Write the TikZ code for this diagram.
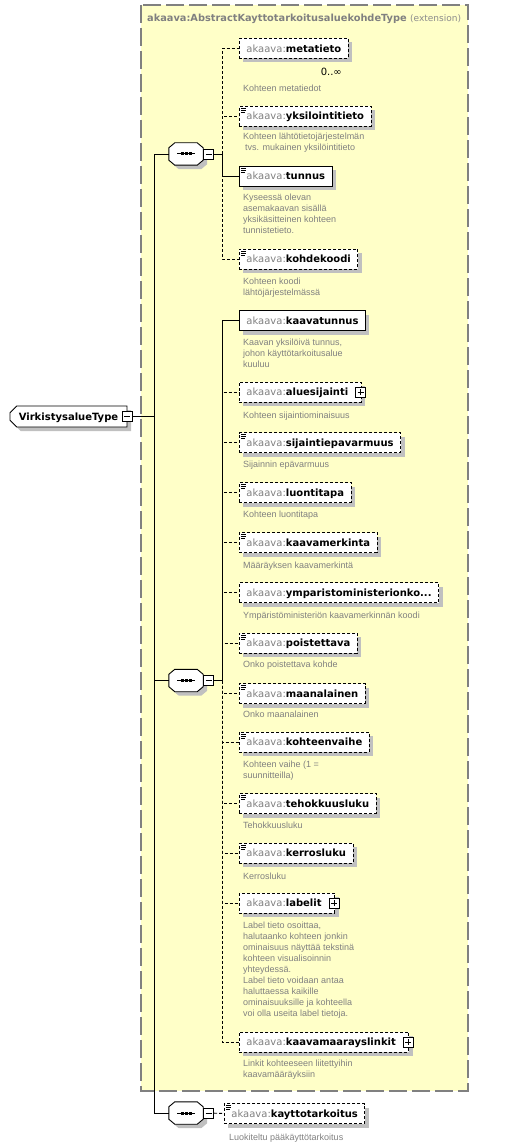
\documentclass[tikz,border=0pt]{standalone}
\usepackage{fontspec}
\setmainfont{DejaVu Sans}
\newfontfamily\descfont{Liberation Sans}
\usetikzlibrary{shapes.misc,shadows}

\definecolor{extfill}{RGB}{255,255,200}
\definecolor{extline}{RGB}{128,128,128}
\definecolor{titlegray}{RGB}{128,128,128}
\definecolor{extgray}{RGB}{140,140,140}
\definecolor{prefixgray}{RGB}{128,128,128}
\definecolor{descgray}{RGB}{128,128,128}
\definecolor{shadowgray}{RGB}{192,192,192}

\newcommand{\akel}[1]{{\color{prefixgray}akaava:}\textbf{#1}}

\tikzset{
  grayshadow/.style={drop shadow={opacity=1, fill=shadowgray, shadow xshift=4pt, shadow yshift=-4pt}},
  elem/.style={draw, fill=white, line width=0.9pt, minimum height=20pt, inner xsep=7pt, inner ysep=0pt,
    text height=7.5pt, text depth=0pt, anchor=west, font=\fontsize{10}{12}\selectfont, grayshadow},
  optel/.style={elem, dash pattern=on 3pt off 2pt},
  simple/.style={path picture={
      \draw[solid, line width=0.8pt] ([xshift=1.5pt,yshift=-2pt]path picture bounding box.north west) -- ++(5pt,0pt);
      \draw[solid, line width=0.8pt] ([xshift=1.5pt,yshift=-4pt]path picture bounding box.north west) -- ++(5pt,0pt);
      \draw[solid, line width=0.8pt] ([xshift=1.5pt,yshift=-6pt]path picture bounding box.north west) -- ++(4pt,0pt);
    }},
  desc/.style={anchor=north west, inner sep=0pt, align=left, text=descgray,
    font=\descfont\fontsize{9}{11}\selectfont, execute at begin node=\strut},
  pm/.style={draw, solid, fill=white, line width=0.9pt, minimum size=10pt, inner sep=0pt},
  minus/.style={pm, path picture={
      \draw[line width=0.9pt] ([xshift=2pt]path picture bounding box.west) -- ([xshift=-2pt]path picture bounding box.east);}},
  plus/.style={pm, path picture={
      \draw[line width=0.9pt] ([xshift=2pt]path picture bounding box.west) -- ([xshift=-2pt]path picture bounding box.east);
      \draw[line width=0.9pt] ([yshift=2pt]path picture bounding box.south) -- ([yshift=-2pt]path picture bounding box.north);}},
  seq/.style={rectangle, minimum width=34pt, minimum height=22pt, inner sep=0pt},
  seqline/.style={draw, fill=white, line width=0.9pt, grayshadow},
  root/.style={chamfered rectangle, chamfered rectangle corners={north west,south west}, chamfered rectangle xsep=3pt,
    draw, fill=white, line width=0.9pt, minimum width=117pt, minimum height=21pt, inner xsep=4pt, inner ysep=0pt,
    text height=7.5pt, text depth=0pt, font=\bfseries\fontsize{10}{12}\selectfont, grayshadow},
  conn/.style={line width=0.9pt},
  optconn/.style={conn, dash pattern=on 3pt off 2pt},
  extbox/.style={draw=extline, fill=extfill, line width=1.2pt, dash pattern=on 18pt off 5pt},
  title/.style={anchor=west, inner sep=0pt, text=titlegray, text height=7.5pt, text depth=0pt,
    font=\bfseries\fontsize{9.8}{12}\selectfont}
}

\begin{document}
\begin{tikzpicture}[x=1pt, y=-1pt]
  \useasboundingbox (0,0) rectangle (510,1147);

  % base type frame
  \draw[extbox] (141,5) rectangle (468,1091);
  \node[title] (ttl) at (147,18) {akaava:AbstractKayttotarkoitusaluekohdeType {\mdseries\fontsize{9}{11}\selectfont\color{extgray}(extension)}};

  % root type and compositors
  \node[root] (root) at (68.5,416.5) {VirkistysalueType};
  \node[minus] (rootpm) at (root.east) {};
  \coordinate (trunk) at (154,416.5);

  \node[seq] (seq1) at (186,154) {};
  \coordinate (fork1) at (222,154);
  \node[seq] (seq2) at (186,680.5) {};
  \coordinate (fork2) at (222,680.5);
  \node[seq] (seq3) at (186,1113) {};

  \foreach \s in {seq1,seq2,seq3}{
    \path[seqline] ([xshift=6pt]\s.north west) -- ([xshift=-6pt]\s.north east) -- ([yshift=-5pt]\s.north east)
      -- ([yshift=5pt]\s.south east) -- ([xshift=-6pt]\s.south east) -- ([xshift=6pt]\s.south west)
      -- ([yshift=5pt]\s.south west) -- ([yshift=-5pt]\s.north west) -- cycle;
    \draw[line width=1pt] ([xshift=-9pt]\s.center) -- ([xshift=9pt]\s.center);
    \fill ([xshift=-5.5pt,yshift=-1.5pt]\s.center) rectangle ++(3pt,3pt);
    \fill ([xshift=-1.5pt,yshift=-1.5pt]\s.center) rectangle ++(3pt,3pt);
    \fill ([xshift=2.5pt,yshift=-1.5pt]\s.center) rectangle ++(3pt,3pt);
  }
  \node[minus, anchor=west] (seq1pm) at (seq1.east) {};
  \node[minus, anchor=west] (seq2pm) at (seq2.east) {};
  \node[minus, anchor=west] (seq3pm) at (seq3.east) {};

  % first sequence
  \node[optel] (meta) at (239,48.5) {\akel{metatieto}};
  \node[anchor=east, inner sep=0pt, font=\fontsize{10}{12}\selectfont] (metaocc) at (342,72) {0..∞};
  \node[desc] (metad) at (243,84) {Kohteen metatiedot};

  \node[optel, simple] (yksi) at (239,116) {\akel{yksilointitieto}};
  \node[desc] (yksid) at (243,132.5) {Kohteen lähtötietojärjestelmän\\\hspace*{2pt}tvs. mukainen yksilöintitieto};

  \node[elem, simple] (tunnus) at (239,176) {\akel{tunnus}};
  \node[desc] (tunnusd) at (243,193.5) {Kyseessä olevan\\asemakaavan sisällä\\yksikäsitteinen kohteen\\tunnistetieto.};

  \node[optel, simple] (kohdek) at (239,259) {\akel{kohdekoodi}};
  \node[desc] (kohdekd) at (243,277.5) {Kohteen koodi\\lähtöjärjestelmässä};

  % second sequence
  \node[elem] (ktunnus) at (239,320.5) {\akel{kaavatunnus}};
  \node[desc] (ktunnusd) at (243,338.5) {Kaavan yksilöivä tunnus,\\johon käyttötarkoitusalue\\kuuluu};

  \node[optel] (alue) at (239,392) {\akel{aluesijainti}\kern6pt};
  \node[plus] (aluepm) at ([xshift=-1pt]alue.east) {};
  \node[desc] (alued) at (243,410.5) {Kohteen sijaintiominaisuus};

  \node[optel, simple] (epavarm) at (239,442.5) {\akel{sijaintiepavarmuus}};
  \node[desc] (epavarmd) at (243,459.5) {Sijainnin epävarmuus};

  \node[optel, simple] (luonti) at (239,492.5) {\akel{luontitapa}};
  \node[desc] (luontid) at (243,509.5) {Kohteen luontitapa};

  \node[optel, simple] (kmerk) at (239,542.5) {\akel{kaavamerkinta}};
  \node[desc] (kmerkd) at (243,560.5) {Määräyksen kaavamerkintä};

  \node[optel] (ymkoodi) at (239,592.5) {\akel{ymparistoministerionko...}};
  \node[desc] (ymkoodid) at (243,610.5) {Ympäristöministeriön kaavamerkinnän koodi};

  \node[optel, simple] (poist) at (239,643) {\akel{poistettava}};
  \node[desc] (poistd) at (243,659.5) {Onko poistettava kohde};

  \node[optel, simple] (maanal) at (239,693.5) {\akel{maanalainen}};
  \node[desc] (maanald) at (243,709.5) {Onko maanalainen};

  \node[optel, simple] (kvaihe) at (239,742) {\akel{kohteenvaihe}};
  \node[desc] (kvaihed) at (243,760.5) {Kohteen vaihe (1 =\\suunnitteilla)};

  \node[optel, simple] (tehok) at (239,803.5) {\akel{tehokkuusluku}};
  \node[desc] (tehokd) at (243,820.5) {Tehokkuusluku};

  \node[optel, simple] (kerros) at (239,853) {\akel{kerrosluku}};
  \node[desc] (kerrosd) at (243,871.5) {Kerrosluku};

  \node[optel] (labelit) at (239,903) {\akel{labelit}\kern6pt};
  \node[plus] (labelitpm) at ([xshift=-1pt]labelit.east) {};
  \node[desc] (labelitd) at (243,921.5) {Label tieto osoittaa,\\halutaanko kohteen jonkin\\ominaisuus näyttää tekstinä\\kohteen visualisoinnin\\yhteydessä.\\Label tieto voidaan antaa\\haluttaessa kaikille\\ominaisuuksille ja kohteella\\voi olla useita label tietoja.};

  \node[optel] (linkit) at (239,1042) {\akel{kaavamaarayslinkit}\kern6pt};
  \node[plus] (linkitpm) at ([xshift=-1pt]linkit.east) {};
  \node[desc] (linkitd) at (243,1059.5) {Linkit kohteeseen liitettyihin\\kaavamääräyksiin};

  % third sequence
  \node[optel, simple] (kaytto) at (224,1113.5) {\akel{kayttotarkoitus}};
  \node[desc] (kayttod) at (229,1132.5) {Luokiteltu pääkäyttötarkoitus};

  % connectors
  \draw[conn] (rootpm) -- (trunk);
  \draw[conn] (trunk) |- (seq1);
  \draw[conn] (trunk) |- (seq2);
  \draw[conn] (trunk) |- (seq3);

  \draw[conn] (seq1pm) -- (fork1);
  \draw[optconn] (fork1) |- (meta.west);
  \draw[optconn] (fork1) |- (yksi.west);
  \draw[optconn] (fork1) |- (kohdek.west);
  \draw[conn] (fork1) |- (tunnus.west);

  \draw[conn] (seq2pm) -- (fork2);
  \draw[optconn] (fork2) |- (alue.west);
  \draw[optconn] (fork2) |- (epavarm.west);
  \draw[optconn] (fork2) |- (luonti.west);
  \draw[optconn] (fork2) |- (kmerk.west);
  \draw[optconn] (fork2) |- (ymkoodi.west);
  \draw[optconn] (fork2) |- (poist.west);
  \draw[optconn] (fork2) |- (maanal.west);
  \draw[optconn] (fork2) |- (kvaihe.west);
  \draw[optconn] (fork2) |- (tehok.west);
  \draw[optconn] (fork2) |- (kerros.west);
  \draw[optconn] (fork2) |- (labelit.west);
  \draw[optconn] (fork2) |- (linkit.west);
  \draw[conn] (fork2) |- (ktunnus.west);

  \draw[optconn] (seq3pm) -- (kaytto.west);
\end{tikzpicture}
\end{document}
